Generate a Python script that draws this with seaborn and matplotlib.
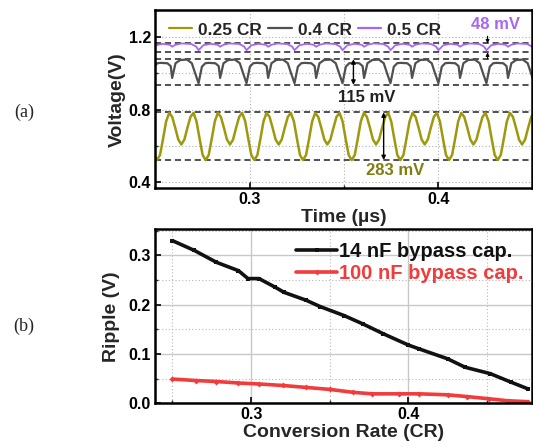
import numpy as np
import pandas as pd
import matplotlib
matplotlib.use("Agg")
import matplotlib.pyplot as plt
from matplotlib.ticker import MultipleLocator
import seaborn as sns

# ---- (a) scope waveforms: one period, repeated ----
# phase (fraction of period) and voltage for one period of each trace
olive_phase = [0, 1/16, 2/16, 3/16, 4/16, 5/16, 6/16, 7/16, 8/16,
               9/16, 10/16, 11/16, 12/16, 13/16, 14/16, 15/16]
olive_volt = [0.522, 0.55, 0.64, 0.735, 0.782, 0.76, 0.70, 0.635, 0.608,
              0.635, 0.70, 0.76, 0.782, 0.735, 0.64, 0.55]
olive_t0, olive_period = 0.251, 0.02577

gray_phase = [0, 0.07, 0.14, 0.21, 0.35, 0.42, 0.45, 0.52, 0.62, 0.76, 0.86, 0.93]
gray_volt = [0.946, 1.037, 1.056, 1.058, 1.056, 1.04, 0.975, 1.056, 1.074, 1.076, 1.056, 1.0]
purple_phase = [0, 0.1, 0.25, 0.4, 0.45, 0.52, 0.65, 0.85, 0.95]
purple_volt = [1.128, 1.155, 1.163, 1.158, 1.147, 1.158, 1.165, 1.162, 1.148]
gray_t0, gray_period = 0.273, 0.0254

ref_levels = [1.165, 1.116, 1.078, 0.937, 0.785, 0.522]

# ---- (b) ripple vs conversion rate ----
cr_14 = [0.250, 0.264, 0.278, 0.292, 0.298, 0.305, 0.315, 0.321, 0.335, 0.344,
         0.359, 0.371, 0.384, 0.400, 0.407, 0.425, 0.436, 0.452, 0.465, 0.476]
ripple_14 = [0.330, 0.310, 0.286, 0.269, 0.253, 0.253, 0.236, 0.225, 0.209, 0.196,
             0.178, 0.161, 0.141, 0.118, 0.110, 0.090, 0.073, 0.060, 0.043, 0.029]
cr_100 = [0.250, 0.265, 0.278, 0.292, 0.305, 0.320, 0.335, 0.350, 0.365, 0.377,
          0.394, 0.407, 0.425, 0.437, 0.451, 0.463, 0.476]
ripple_100 = [0.049, 0.046, 0.044, 0.041, 0.039, 0.036, 0.032, 0.028, 0.022, 0.019,
              0.019, 0.019, 0.017, 0.0135, 0.009, 0.005, 0.003]

OLIVE = "#9c9a0c"
GRAY = "#505050"
PURPLE = "#a866f2"
RED = "#f23b3b"


def repeat_period(phase, volt, t0, period, k_range):
    t, v = [], []
    for k in k_range:
        for p, val in zip(phase, volt):
            t.append(t0 + (k + p) * period)
            v.append(val)
    return pd.DataFrame({"time": t, "voltage": v})


sns.set_theme(style="white")
plt.rcParams['font.family'] = ['Liberation Sans', 'DejaVu Sans']
plt.rcParams['font.weight'] = 'bold'
plt.rcParams['axes.labelweight'] = 'bold'

fig = plt.figure(figsize=(5.33, 4.47), dpi=100)
ax1 = fig.add_axes([0.291, 0.579, 0.707, 0.398])
ax2 = fig.add_axes([0.291, 0.098, 0.707, 0.389])

olive = repeat_period(olive_phase, olive_volt, olive_t0, olive_period, range(-1, 9))
gray = repeat_period(gray_phase, gray_volt, gray_t0, gray_period, range(-2, 9))
purple = repeat_period(purple_phase, purple_volt, gray_t0, gray_period, range(-2, 9))

for lvl in ref_levels:
    ax1.axhline(lvl, color="#222222", ls=(0, (4, 2.5)), lw=1.1, zorder=1)

sns.lineplot(data=olive, x="time", y="voltage", ax=ax1, color=OLIVE, lw=1.8,
             label="0.25 CR", estimator=None, sort=False)
sns.lineplot(data=gray, x="time", y="voltage", ax=ax1, color=GRAY, lw=1.6,
             label="0.4 CR", estimator=None, sort=False)
sns.lineplot(data=purple, x="time", y="voltage", ax=ax1, color=PURPLE, lw=1.3,
             label="0.5 CR", estimator=None, sort=False)

ax1.set_xlim(0.25, 0.4495)
ax1.set_ylim(0.367, 1.348)
ax1.xaxis.set_major_locator(MultipleLocator(0.1))
ax1.xaxis.set_minor_locator(MultipleLocator(0.05))
ax1.yaxis.set_major_locator(MultipleLocator(0.4))
ax1.yaxis.set_minor_locator(MultipleLocator(0.2))
ax1.grid(True, which="both", color="#b0b0b0", ls=(0, (1, 2)), lw=0.8)
ax1.set_xlabel("Time (\u00b5s)", fontsize=14, labelpad=1)
ax1.set_ylabel("Voltage(V)", fontsize=14, labelpad=2)

# annotations
arr = dict(arrowstyle="<|-|>", color="black", lw=1.0, mutation_scale=6, shrinkA=0, shrinkB=0)
ax1.annotate("", xy=(0.355, 0.937), xytext=(0.355, 1.078), arrowprops=arr)
ax1.annotate("", xy=(0.371, 0.522), xytext=(0.371, 0.785), arrowprops=arr)
one = dict(arrowstyle="-|>", color="black", lw=0.8, mutation_scale=5, shrinkA=0, shrinkB=0)
ax1.annotate("", xy=(0.426, 1.165), xytext=(0.426, 1.205), arrowprops=one)
ax1.annotate("", xy=(0.426, 1.116), xytext=(0.426, 1.08), arrowprops=one)
ax1.text(0.362, 0.866, "115 mV", ha="center", va="center", fontsize=12,
         fontweight="bold", color="#222222")
ax1.text(0.377, 0.466, "283 mV", ha="center", va="center", fontsize=12,
         fontweight="bold", color="#807e10")
ax1.text(0.430, 1.271, "48 mV", ha="center", va="center", fontsize=12,
         fontweight="bold", color=PURPLE)

leg1 = ax1.legend(loc="upper left", bbox_to_anchor=(-0.005, 1.02), ncol=3, frameon=False,
                  handlelength=1.35, handletextpad=0.35, columnspacing=0.35,
                  prop={"size": 12.5, "weight": "bold"})
for line in leg1.get_lines():
    line.set_linewidth(1.6)

# ---- bottom panel ----
sns.lineplot(x=cr_14, y=ripple_14, ax=ax2, color="#111111", lw=2.6, marker="s",
             markersize=3.5, markeredgewidth=0, label="14 nF bypass cap.")
sns.lineplot(x=cr_100, y=ripple_100, ax=ax2, color=RED, lw=2.6, marker="D",
             markersize=3, markeredgewidth=0, label="100 nF bypass cap.")
ax2.set_xlim(0.239, 0.4785)
ax2.set_ylim(0.0, 0.353)
ax2.xaxis.set_major_locator(MultipleLocator(0.1))
ax2.xaxis.set_minor_locator(MultipleLocator(0.05))
ax2.yaxis.set_major_locator(MultipleLocator(0.1))
ax2.yaxis.set_minor_locator(MultipleLocator(0.05))
ax2.grid(True, which="major", color="#c8c8c8", lw=1.0)
ax2.grid(True, which="minor", color="#b8b8b8", ls=(0, (1, 2)), lw=0.8)
ax2.set_xlabel("Conversion Rate (CR)", fontsize=14, labelpad=1)
ax2.set_ylabel("Ripple (V)", fontsize=14, labelpad=6)
leg2 = ax2.legend(loc="upper right", bbox_to_anchor=(1.025, 1.03), frameon=False,
                  handlelength=2.0, handletextpad=0.1, labelspacing=0.15,
                  prop={"size": 14.5, "weight": "bold"})
for txt, col in zip(leg2.get_texts(), ["#111111", RED]):
    txt.set_color(col)

for ax in (ax1, ax2):
    ax.set_axisbelow(True)
    for sp in ax.spines.values():
        sp.set_color("black")
        sp.set_linewidth(1.8)
    ax.tick_params(which="major", direction="in", length=4, width=1.2, colors="black",
                   labelsize=11.5, left=True, bottom=True, pad=3)
    ax.tick_params(which="minor", direction="in", length=2, width=1, left=True, bottom=True)
    for lab in ax.get_xticklabels() + ax.get_yticklabels():
        lab.set_fontweight("bold")

fig.text(0.045, 1 - 112 / 447, "(a)", fontsize=13, family="Liberation Serif",
         fontweight="normal", ha="center", va="center")
fig.text(0.045, 1 - 326 / 447, "(b)", fontsize=13, family="Liberation Serif",
         fontweight="normal", ha="center", va="center")

fig.savefig("out.png", dpi=100)
